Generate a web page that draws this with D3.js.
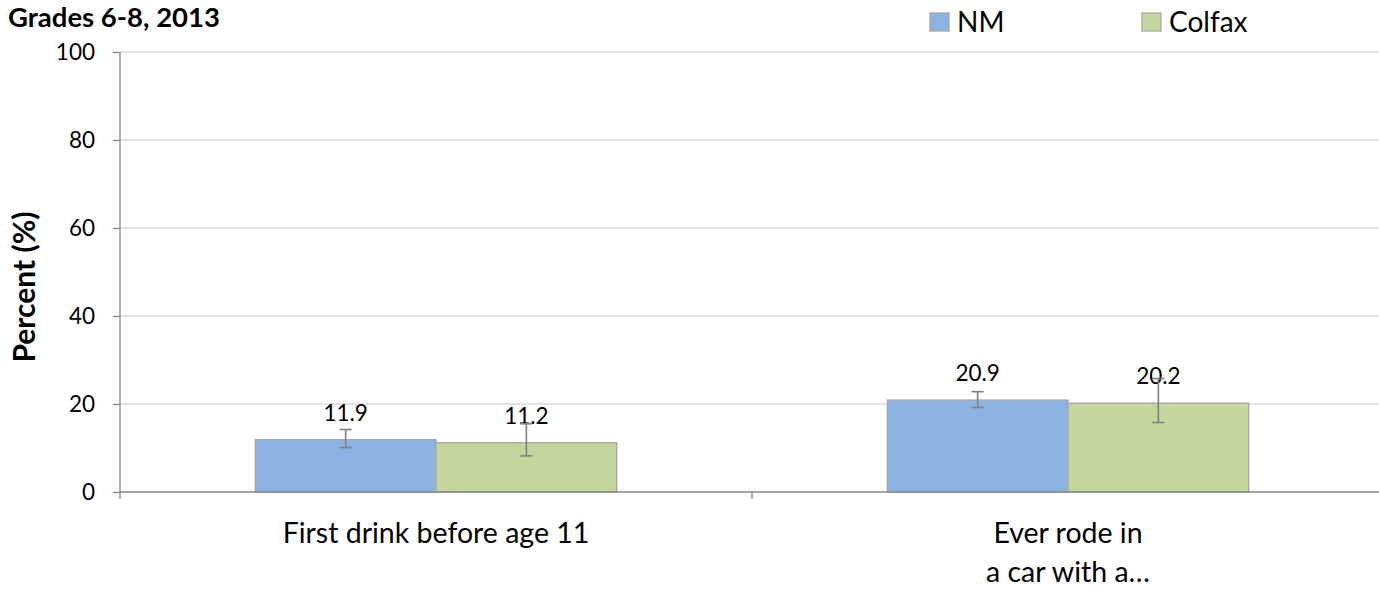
<!DOCTYPE html>
<html>
<head>
<meta charset="utf-8">
<script src="https://cdn.jsdelivr.net/npm/d3@7"></script>
<style>
  body { margin: 0; background: #fff; }
  text { font-family: Lato, "Open Sans", sans-serif; }
</style>
</head>
<body>
<svg width="1379" height="591"></svg>
<script>
// chart data
var categories = ["First drink before age 11", "Ever rode in|a car with a\u2026"];
var seriesNames = ["NM", "Colfax"];
var seriesColors = ["#8db3e2", "#c3d69b"];
var nmValues = [11.9, 20.9];
var colfaxValues = [11.2, 20.2];
var nmLow = [10.1, 19.2];
var nmHigh = [14.2, 22.8];
var colfaxLow = [8.2, 15.8];
var colfaxHigh = [15.5, 25.8];
var yTicks = [0, 20, 40, 60, 80, 100];

var svg = d3.select("svg");

var margin = {left: 120, right: -5, top: 52, bottom: 99};
var width = 1379 - margin.left - margin.right,
    height = 591 - margin.top - margin.bottom;

// digits render a bit wide in Lato, words a bit narrow, so two sizes
var numSize = 22.5, wordSize = 28.5;

var g = svg.append("g")
    .attr("transform", "translate(" + margin.left + "," + margin.top + ")");

var x0 = d3.scaleBand()
    .domain(categories)
    .range([0, width])
    .paddingInner(0)
    .paddingOuter(0);

var x1 = d3.scaleBand()
    .domain(seriesNames)
    .range([0, x0.bandwidth() * 0.572])
    .padding(0);

var y = d3.scaleLinear()
    .domain([0, 100])
    .range([height, 0]);

// build rows for the bars
var rows = [];
categories.forEach(function(c, i) {
    rows.push({cat: c, series: "NM", value: nmValues[i], lo: nmLow[i], hi: nmHigh[i], color: seriesColors[0]});
    rows.push({cat: c, series: "Colfax", value: colfaxValues[i], lo: colfaxLow[i], hi: colfaxHigh[i], color: seriesColors[1]});
});

var groupOffset = (x0.bandwidth() - x1.range()[1]) / 2;
function barX(d) { return x0(d.cat) + groupOffset + x1(d.series); }

// gridlines
g.append("g")
    .selectAll("line")
    .data(yTicks.slice(1))
    .enter().append("line")
    .attr("x1", 0)
    .attr("x2", width)
    .attr("y1", d => y(d))
    .attr("y2", d => y(d))
    .style("stroke", "#d9d9d9")
    .style("stroke-width", 1.3);

// y axis
var yAxis = d3.axisLeft(y)
    .tickValues(yTicks)
    .tickSize(7)
    .tickPadding(18);

var yAxisG = g.append("g").call(yAxis);
yAxisG.select(".domain").remove();
yAxisG.selectAll(".tick line").style("stroke", "#868686").style("stroke-width", 1.3);
yAxisG.selectAll(".tick text")
    .style("font-family", "Lato, sans-serif")
    .style("font-size", numSize + "px")
    .style("fill", "#000");

g.append("line")
    .attr("x1", 0).attr("x2", 0)
    .attr("y1", 0).attr("y2", height + 7)
    .style("stroke", "#868686")
    .style("stroke-width", 1.3);

// bars
g.append("g")
    .selectAll("rect")
    .data(rows)
    .enter().append("rect")
    .attr("x", barX)
    .attr("y", d => y(d.value))
    .attr("width", x1.bandwidth())
    .attr("height", d => height - y(d.value))
    .attr("fill", d => d.color)
    .style("stroke", "#a6a6a6")
    .style("stroke-width", 1.3);

// x axis line and category ticks
g.append("line")
    .attr("x1", 0).attr("x2", width)
    .attr("y1", height).attr("y2", height)
    .style("stroke", "#868686")
    .style("stroke-width", 1.3);

g.append("g")
    .selectAll("line")
    .data(categories.slice(1))
    .enter().append("line")
    .attr("x1", d => x0(d)).attr("x2", d => x0(d))
    .attr("y1", height).attr("y2", height + 7)
    .style("stroke", "#868686")
    .style("stroke-width", 1.3);

// value labels
g.append("g")
    .selectAll("text")
    .data(rows)
    .enter().append("text")
    .attr("x", d => barX(d) + x1.bandwidth() / 2)
    .attr("y", d => y(d.value) - 19)
    .attr("text-anchor", "middle")
    .style("font-size", numSize + "px")
    .style("fill", "#000")
    .text(d => d.value.toFixed(1));

// error bars
var eb = g.append("g")
    .selectAll("g")
    .data(rows)
    .enter().append("g")
    .style("stroke", "#7f7f7f")
    .style("stroke-width", 1.6);

eb.append("line")
    .attr("x1", d => barX(d) + x1.bandwidth() / 2)
    .attr("x2", d => barX(d) + x1.bandwidth() / 2)
    .attr("y1", d => y(d.hi))
    .attr("y2", d => y(d.lo));
eb.append("line")
    .attr("x1", d => barX(d) + x1.bandwidth() / 2 - 6)
    .attr("x2", d => barX(d) + x1.bandwidth() / 2 + 6)
    .attr("y1", d => y(d.hi))
    .attr("y2", d => y(d.hi));
eb.append("line")
    .attr("x1", d => barX(d) + x1.bandwidth() / 2 - 6)
    .attr("x2", d => barX(d) + x1.bandwidth() / 2 + 6)
    .attr("y1", d => y(d.lo))
    .attr("y2", d => y(d.lo));

// category labels (split on |)
var catLabels = g.append("g")
    .selectAll("text")
    .data(categories)
    .enter().append("text")
    .attr("x", d => x0(d) + x0.bandwidth() / 2)
    .attr("y", height + 51)
    .attr("text-anchor", "middle")
    .style("font-size", wordSize + "px")
    .style("fill", "#000");

catLabels.selectAll("tspan")
    .data(d => d.split("|"))
    .enter().append("tspan")
    .attr("x", function() { return d3.select(this.parentNode).attr("x"); })
    .attr("dy", (d, i) => i === 0 ? 0 : 39)
    .text(d => d);

// y axis title
svg.append("text")
    .attr("transform", "translate(35,287) rotate(-90)")
    .attr("text-anchor", "middle")
    .style("font-size", "30px")
    .style("font-weight", "bold")
    .style("fill", "#000")
    .text("Percent (%)");

// chart title
svg.append("text")
    .attr("x", 8)
    .attr("y", 27)
    .style("font-size", "27.5px")
    .style("font-weight", "bold")
    .style("fill", "#000")
    .text("Grades 6-8, 2013");

// legend
var legendX = [930, 1142];
var legend = svg.append("g")
    .selectAll("g")
    .data(seriesNames)
    .enter().append("g")
    .attr("transform", (d, i) => "translate(" + legendX[i] + ",13)");

legend.append("rect")
    .attr("width", 19)
    .attr("height", 18)
    .attr("fill", (d, i) => seriesColors[i])
    .style("stroke", "#a6a6a6")
    .style("stroke-width", 1.3);

legend.append("text")
    .attr("x", 27)
    .attr("y", 19)
    .style("font-size", "28px")
    .style("fill", "#000")
    .text(d => d);
</script>
</body>
</html>
